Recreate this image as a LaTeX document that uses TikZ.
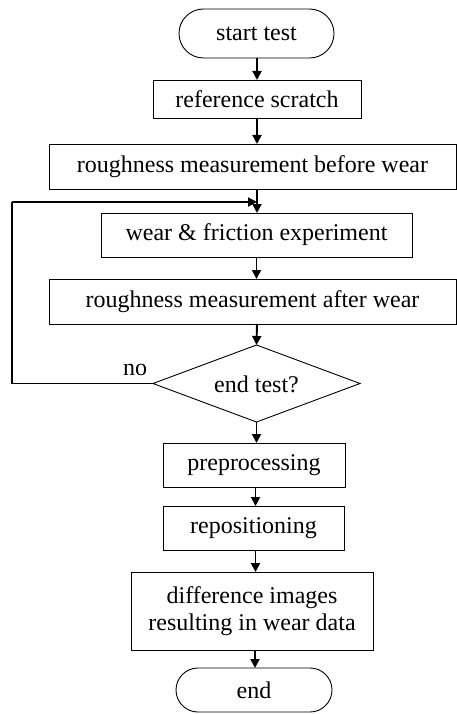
\documentclass[tikz,border=0pt]{standalone}
\usepackage{fontspec}
\setmainfont{Liberation Serif}
\usetikzlibrary{arrows.meta,shapes.misc}
\begin{document}
\begin{tikzpicture}[x=1pt,y=-1pt,
  every node/.style={inner sep=0pt,outer sep=0pt,font=\fontsize{24}{27.5}\selectfont},
  box/.style={draw,line width=0.9pt,rectangle},
  term/.style={draw,line width=0.9pt,rounded rectangle},
  arr/.style={line width=1.9pt,-{Triangle[length=9pt,width=9pt]}},
  lin/.style={line width=1.3pt}]
\useasboundingbox (0,0) rectangle (457,714);
\node[term,minimum width=155pt,minimum height=49pt] (start) at (256.5,33.5) {start test};
\node[box,minimum width=208pt,minimum height=38pt] (ref) at (257,99) {reference scratch};
\node[box,minimum width=407pt,minimum height=45pt] (rb) at (252.5,166.5) {roughness measurement before wear};
\node[box,minimum width=311pt,minimum height=44pt] (wear) at (256.5,235) {wear \& friction experiment};
\node[box,minimum width=407pt,minimum height=45pt] (ra) at (252.5,301.5) {roughness measurement after wear};
\node (dec) at (256.5,384) {end test?};
\coordinate (dt) at (256.5,345);
\coordinate (dr) at (360,383.5);
\coordinate (db) at (256.5,422);
\coordinate (dl) at (153,383.5);
\draw[line width=0.9pt] (dt) -- (dr) -- (db) -- (dl) -- cycle;
\node[box,minimum width=182pt,minimum height=44pt] (pre) at (254,465) {preprocessing};
\node[box,minimum width=181pt,minimum height=44pt] (rep) at (253.5,528) {repositioning};
\node[box,minimum width=242pt,minimum height=78pt,align=center] (diff) at (252,611) {difference images\\resulting in wear data};
\node[term,minimum width=156pt,minimum height=44pt] (fin) at (254,690) {end};
\node (no) at (135,370) {no};
\coordinate (j) at (257,202);
\coordinate (c1) at (12,383.5);
\coordinate (c2) at (12,202);
\draw[arr] (start.south -| 257,0) -- (ref.north -| 257,0);
\draw[arr] (ref.south -| 257,0) -- (rb.north -| 257,0);
\draw[arr] (rb.south -| 257,0) -- (wear.north -| 257,0);
\draw[arr] (wear.south -| 256.5,0) -- (ra.north -| 256.5,0);
\draw[arr] (ra.south -| 257,0) -- (dt);
\draw[arr] (db) -- (pre.north -| 256.5,0);
\draw[arr] (pre.south -| 255.5,0) -- (rep.north -| 255.5,0);
\draw[arr] (rep.south -| 255.5,0) -- (diff.north -| 255.5,0);
\draw[arr] (diff.south -| 255,0) -- (fin.north -| 255,0);
\draw[lin] (dl) -- (c1) -- (c2);
\draw[arr] (c2) -- (j);
\end{tikzpicture}
\end{document}
